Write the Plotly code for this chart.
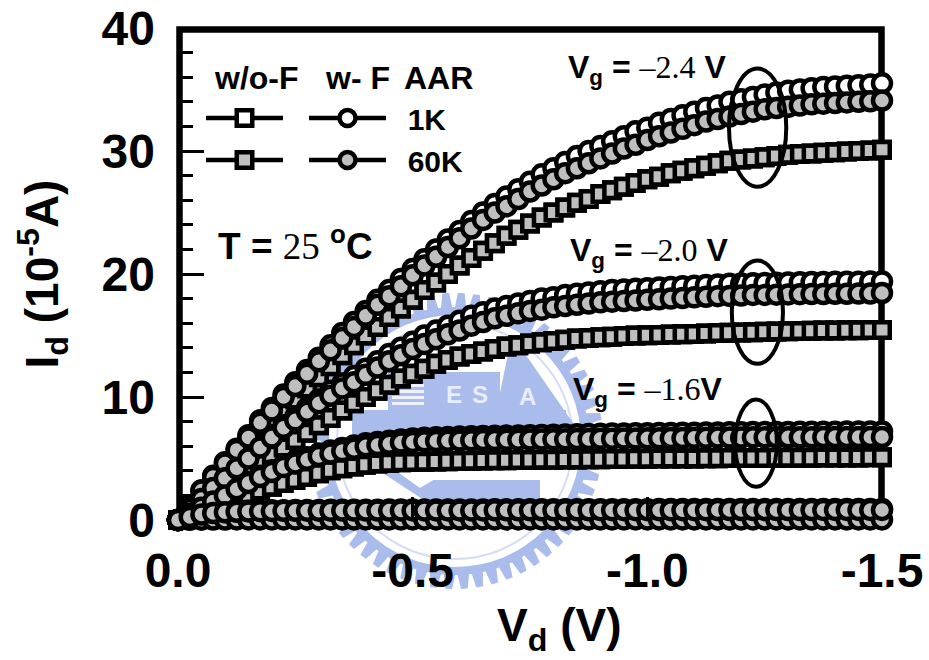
import math
import plotly.graph_objects as go

VD = [0.0,-0.025,-0.05,-0.075,-0.1,-0.125,-0.15,-0.175,-0.2,-0.225,-0.25,-0.275,-0.3,-0.325,-0.35,-0.375,-0.4,-0.425,-0.45,-0.475,
      -0.5,-0.525,-0.55,-0.575,-0.6,-0.625,-0.65,-0.675,-0.7,-0.725,-0.75,-0.775,-0.8,-0.825,-0.85,-0.875,-0.9,-0.925,-0.95,-0.975,
      -1.0,-1.025,-1.05,-1.075,-1.1,-1.125,-1.15,-1.175,-1.2,-1.225,-1.25,-1.275,-1.3,-1.325,-1.35,-1.375,-1.4,-1.425,-1.45,-1.475,-1.5]

WF_1K_24 = [0,1.2,2.4,3.6,4.7,5.8,6.9,8.1,9.1,10.2,11.2,12.2,13.2,14.2,15.2,16.1,17.0,17.9,18.7,19.6,20.4,21.2,22.0,22.8,23.5,24.3,25.0,25.7,26.3,26.9,27.5,28.1,28.6,29.1,29.6,30.0,30.4,30.8,31.2,31.6,31.9,32.3,32.6,32.9,33.2,33.5,33.7,34.0,34.2,34.4,34.6,34.75,34.9,35.0,35.1,35.2,35.25,35.3,35.35,35.4,35.5]
WF_60K_24 = [0,1.2,2.4,3.5,4.6,5.7,6.7,7.9,8.9,10.0,10.9,11.9,12.9,13.8,14.8,15.7,16.6,17.5,18.2,19.0,19.9,20.7,21.4,22.2,22.9,23.7,24.4,25.0,25.5,26.1,26.7,27.2,27.7,28.2,28.6,29.0,29.4,29.8,30.2,30.5,30.9,31.2,31.5,31.8,32.1,32.4,32.6,32.8,33.0,33.2,33.4,33.5,33.6,33.7,33.8,33.85,33.9,33.95,34.0,34.05,34.1]
WOF_60K_24 = [0,1.0,2.0,3.0,4.0,4.9,5.8,6.8,8.0,8.9,9.8,10.7,11.6,12.5,13.4,14.2,15.0,15.7,16.5,17.2,17.9,18.7,19.3,20.0,20.7,21.3,21.9,22.5,23.1,23.6,24.1,24.6,25.0,25.4,25.8,26.1,26.5,26.8,27.1,27.4,27.7,27.9,28.2,28.4,28.6,28.8,29.0,29.2,29.3,29.4,29.5,29.6,29.7,29.75,29.8,29.85,29.9,29.95,30.0,30.05,30.1]

WF_1K_20 = [0,0.9,1.8,2.7,3.5,4.3,5.2,6.1,6.9,7.7,8.4,9.1,9.8,10.5,11.1,11.7,12.3,12.9,13.5,14.0,14.5,15.0,15.4,15.8,16.2,16.6,16.9,17.2,17.4,17.6,17.8,18.0,18.1,18.3,18.4,18.5,18.6,18.7,18.75,18.8,18.85,18.9,18.95,19.0,19.05,19.1,19.15,19.2,19.22,19.25,19.27,19.29,19.31,19.33,19.34,19.35,19.36,19.37,19.38,19.39,19.4]
WF_60K_20 = [0,0.9,1.7,2.6,3.4,4.2,5.0,5.9,6.7,7.5,8.1,8.8,9.5,10.1,10.7,11.2,11.8,12.4,12.9,13.4,13.9,14.3,14.7,15.1,15.4,15.8,16.1,16.4,16.6,16.8,17.0,17.1,17.3,17.4,17.5,17.6,17.7,17.75,17.8,17.85,17.9,17.95,18.0,18.05,18.1,18.15,18.2,18.22,18.25,18.3,18.3,18.32,18.34,18.36,18.37,18.38,18.39,18.4,18.41,18.42,18.45]
WOF_60K_20 = [0,0.7,1.4,2.1,2.8,3.4,4.1,4.7,5.3,5.9,6.5,7.1,7.7,8.3,8.9,9.5,10.0,10.5,11.0,11.5,11.9,12.3,12.7,13.0,13.3,13.5,13.7,13.9,14.1,14.2,14.35,14.45,14.55,14.65,14.75,14.8,14.85,14.9,14.95,15.0,15.02,15.05,15.08,15.1,15.13,15.16,15.2,15.22,15.25,15.27,15.3,15.32,15.34,15.36,15.38,15.4,15.41,15.42,15.43,15.44,15.45]

WF_1K_16 = [0,0.5,1.0,1.5,2.05,2.6,3.1,3.6,4.05,4.45,4.8,5.1,5.4,5.65,5.85,6.05,6.25,6.35,6.45,6.55,6.62,6.68,6.72,6.75,6.78,6.8,6.82,6.84,6.86,6.88,6.9,6.92,6.94,6.96,6.98,7.0,7.02,7.03,7.04,7.05,7.06,7.07,7.08,7.09,7.1,7.11,7.12,7.13,7.14,7.15,7.15,7.16,7.16,7.17,7.17,7.18,7.18,7.19,7.19,7.2,7.2]
WF_60K_16 = [0,0.5,1.0,1.5,2.0,2.5,3.0,3.5,3.9,4.3,4.6,4.9,5.2,5.4,5.6,5.8,6.0,6.1,6.2,6.3,6.35,6.4,6.42,6.44,6.46,6.48,6.5,6.5,6.52,6.52,6.54,6.54,6.56,6.56,6.58,6.58,6.6,6.6,6.62,6.62,6.64,6.64,6.66,6.66,6.68,6.68,6.7,6.7,6.7,6.72,6.72,6.72,6.73,6.73,6.73,6.74,6.74,6.74,6.75,6.75,6.75]
WOF_60K_16 = [0,0.35,0.7,1.05,1.4,1.75,2.1,2.4,2.7,3.0,3.25,3.5,3.8,4.05,4.2,4.35,4.5,4.6,4.65,4.7,4.72,4.74,4.76,4.78,4.8,4.82,4.84,4.85,4.86,4.87,4.88,4.89,4.9,4.91,4.92,4.93,4.94,4.95,4.96,4.97,4.98,4.99,5.0,5.0,5.01,5.02,5.03,5.04,5.04,5.05,5.05,5.06,5.06,5.07,5.07,5.08,5.08,5.09,5.09,5.1,5.1]

WF_1K_12 = [0,0.3,0.5,0.62,0.68,0.72,0.75,0.77,0.79,0.8,0.81,0.82,0.82,0.83,0.83,0.84,0.84,0.84,0.85,0.85,0.85,0.85,0.86,0.86,0.86,0.86,0.86,0.87,0.87,0.87,0.87,0.87,0.87,0.88,0.88,0.88,0.88,0.88,0.88,0.88,0.88,0.89,0.89,0.89,0.89,0.89,0.89,0.89,0.89,0.89,0.9,0.9,0.9,0.9,0.9,0.9,0.9,0.9,0.9,0.9,0.9]
WF_60K_12 = [0,0.25,0.45,0.57,0.63,0.67,0.7,0.72,0.74,0.75,0.75,0.76,0.76,0.76,0.77,0.77,0.77,0.77,0.77,0.78,0.78,0.78,0.78,0.78,0.78,0.78,0.78,0.79,0.79,0.79,0.79,0.79,0.79,0.79,0.79,0.79,0.8,0.8,0.8,0.8,0.8,0.8,0.8,0.8,0.8,0.8,0.81,0.81,0.81,0.81,0.81,0.81,0.81,0.81,0.81,0.82,0.82,0.82,0.82,0.82,0.82]
WF_60K_08 = [0,0.02,0.03,0.04,0.04,0.05,0.05,0.05,0.05,0.05,0.05,0.05,0.05,0.05,0.05,0.05,0.05,0.05,0.05,0.05,0.05,0.05,0.05,0.05,0.05,0.05,0.05,0.05,0.05,0.05,0.05,0.05,0.05,0.05,0.05,0.05,0.05,0.05,0.05,0.05,0.05,0.05,0.05,0.05,0.05,0.05,0.05,0.05,0.05,0.05,0.05,0.05,0.05,0.05,0.05,0.05,0.05,0.05,0.05,0.05,0.05]

Y_TICKS = [0, 10, 20, 30, 40]
X_TICKS = [0, -0.5, -1.0, -1.5]
X_TICK_LABELS = ["0.0", "-0.5", "-1.0", "-1.5"]

for arr in [WF_1K_24, WF_60K_24, WOF_60K_24, WF_1K_20, WF_60K_20, WOF_60K_20, WF_1K_16, WF_60K_16, WOF_60K_16, WF_1K_12, WF_60K_12, WF_60K_08]:
    assert len(arr) == len(VD), len(arr)

BLACK = "#000000"
GREY = "#bfbfbf"
SEAL = "#aabcec"
SANS = "Liberation Sans, Arial, sans-serif"
SERIF = "Liberation Serif, Times New Roman, serif"

L, R, T, B = 178, 882, 28, 520


def fx(px):
    return (px - L) / (R - L)


def fy(py):
    return (B - py) / (B - T)


def ptrace(y, name, symbol, fill, legend=None, show=False):
    return go.Scatter(
        x=VD, y=y, name=name, mode="lines+markers", cliponaxis=False,
        line=dict(color=BLACK, width=4.5),
        marker=dict(symbol=symbol, size=15.5 if symbol == "square" else 18, color=fill,
                    line=dict(color=BLACK, width=4.5)),
        showlegend=show, legend=legend, legendgroup=name if show else None, hoverinfo="x+y+name",
    )


fig = go.Figure()
# squares under circles; w/o-F 1K coincides with the 60K curve and is hidden below it
fig.add_trace(ptrace(WOF_60K_24, "  ", "square", "#ffffff", "legend", True))
for y in [WOF_60K_20, WOF_60K_16]:
    fig.add_trace(ptrace(y, "w/o-F 1K", "square", "#ffffff"))
fig.add_trace(ptrace(WOF_60K_24, "   ", "square", GREY, "legend", True))
for y in [WOF_60K_20, WOF_60K_16]:
    fig.add_trace(ptrace(y, "w/o-F 60K", "square", GREY))
fig.add_trace(ptrace(WF_60K_08, "w-F Vg=-0.8", "circle", GREY))
fig.add_trace(ptrace(WF_1K_24, "\u00a0\u00a01K", "circle", "#ffffff", "legend2", True))
for y in [WF_1K_20, WF_1K_16, WF_1K_12]:
    fig.add_trace(ptrace(y, "w-F 1K", "circle", "#ffffff"))
fig.add_trace(ptrace(WF_60K_24, "\u00a0\u00a060K", "circle", GREY, "legend2", True))
for y in [WF_60K_20, WF_60K_16, WF_60K_12]:
    fig.add_trace(ptrace(y, "w-F 60K", "circle", GREY))

shapes = []
# faint seal watermark behind the data
cx, cy = 455, 441
n_teeth = 60
pts = []
for k in range(n_teeth):
    a0 = 2 * math.pi * k / n_teeth
    step = 2 * math.pi / n_teeth
    for frac, r in [(0.0, 134), (0.18, 148), (0.62, 148), (0.8, 134)]:
        a = a0 + frac * step
        pts.append((fx(cx + r * math.cos(a)), fy(cy + r * math.sin(a))))
path = "M " + " L ".join(f"{a:.5f},{b:.5f}" for a, b in pts) + " Z"
shapes.append(dict(type="path", path=path, xref="paper", yref="paper", fillcolor=SEAL, line_width=0, layer="below"))


def seal_circle(r, fill, line_color=None, lw=0):
    shapes.append(dict(type="circle", xref="paper", yref="paper", x0=fx(cx - r), x1=fx(cx + r), y0=fy(cy + r), y1=fy(cy - r),
                       fillcolor=fill, line=dict(color=line_color or fill, width=lw), layer="below"))


def seal_rect(x0, y0, x1, y1, fill=SEAL):
    shapes.append(dict(type="rect", xref="paper", yref="paper", x0=fx(x0), x1=fx(x1), y0=fy(y1), y1=fy(y0),
                       fillcolor=fill, line_width=0, layer="below"))


def seal_poly(points, fill=SEAL):
    p = "M " + " L ".join(f"{fx(a):.5f},{fy(b):.5f}" for a, b in points) + " Z"
    shapes.append(dict(type="path", path=p, xref="paper", yref="paper", fillcolor=fill, line_width=0, layer="below"))


seal_circle(126, "#ffffff")
seal_circle(118, "rgba(0,0,0,0)", "#d5ddf5", 2)
seal_rect(352, 410, 566, 440)
seal_rect(388, 372, 500, 412)
seal_poly([(496, 412), (512, 335), (578, 430), (520, 430)])
seal_poly([(378, 470), (400, 455), (430, 480), (540, 480), (540, 504), (430, 504)])
seal_poly([(392, 468), (500, 440), (420, 488)], "#ffffff")
for s in range(4):
    seal_rect(392, 384 + 6 * s, 424, 387 + 6 * s, "#eef1fb")

# frame, under the markers
shapes.append(dict(type="rect", xref="paper", yref="paper", x0=fx(179.5), x1=fx(881.5), y0=fy(520), y1=fy(29.5),
                   fillcolor="rgba(0,0,0,0)", line=dict(color=BLACK, width=6.5), layer="below"))

# ellipses grouping each gate-voltage family, above the markers
for x0, x1, y0, y1 in [(-1.174, -1.296, 27.1, 36.7), (-1.180, -1.289, 12.7, 21.1), (-1.187, -1.276, 2.7, 9.8)]:
    shapes.append(dict(type="circle", xref="x", yref="y", x0=x0, x1=x1, y0=y0, y1=y1,
                       fillcolor="rgba(0,0,0,0)", line=dict(color=BLACK, width=4), layer="above"))


def note(text, px, py, size=32, anchor="center"):
    return dict(text=text, x=fx(px), y=fy(py), xref="paper", yref="paper", showarrow=False, xanchor=anchor, yanchor="middle",
                font=dict(family=SANS, size=size, color=BLACK))


def srf(t):
    return f"<span style='font-family:{SERIF};font-weight:normal'>{t}</span>"


annotations = [
    note("<b>w/o-F</b>", 256, 78),
    note("<b>w- F</b>", 357, 78),
    note("<b>AAR</b>", 438, 78),
    note("<b>T = </b>" + srf("25") + "<b> <sup>o</sup>C</b>", 216, 243, 37, "left"),
    note("<b>V<sub>g</sub> = </b>" + srf("–2.4") + "<b> V</b>", 566, 70, 32, "left"),
    note("<b>V<sub>g</sub> = </b>" + srf("–2.0") + "<b> V</b>", 568, 252, 32, "left"),
    note("<b>V<sub>g</sub> = </b>" + srf("–1.6") + "<b>V</b>", 571, 392, 32, "left"),
    note("<b>V<sub>d</sub> (V)</b>", 559, 628, 46),
    note("<b>E</b>", 454, 394, 24),
    note("<b>S</b>", 480, 394, 24),
    note("<b>A</b>", 527, 396, 24),
]
for a in annotations[-3:]:
    a["font"]["color"] = "#e8edfb"

legend_common = dict(
    bgcolor="rgba(0,0,0,0)", borderwidth=0, itemwidth=77, traceorder="grouped", tracegroupgap=0,
    font=dict(family=SANS, size=30, color=BLACK, weight="bold"), xanchor="left", yanchor="top", itemclick=False, itemdoubleclick=False,
)

fig.update_layout(
    width=929, height=660, autosize=False,
    margin=dict(l=L, r=929 - R, t=T, b=660 - B, autoexpand=False),
    paper_bgcolor="#ffffff", plot_bgcolor="rgba(0,0,0,0)",
    font=dict(family=SANS, color=BLACK),
    showlegend=True,
    legend=dict(x=fx(201), y=fy(92), **legend_common),
    legend2=dict(x=fx(304), y=fy(92), **legend_common),
    shapes=shapes, annotations=annotations,
    xaxis=dict(range=[0, -1.5], showgrid=False, zeroline=False, showline=False,
               tickmode="array", tickvals=X_TICKS, ticktext=X_TICK_LABELS,
               ticks="inside", ticklen=23, tickwidth=3, tickcolor=BLACK, ticklabelstandoff=18,
               tickfont=dict(family=SANS, size=48, color=BLACK, weight="bold")),
    yaxis=dict(range=[0, 40], showgrid=False, zeroline=False, showline=False,
               tickmode="array", tickvals=Y_TICKS, ticktext=[str(v) for v in Y_TICKS],
               ticks="inside", ticklen=26, tickwidth=3, tickcolor=BLACK, ticklabelstandoff=22,
               minor=dict(dtick=2, ticks="inside", ticklen=15, tickwidth=3, tickcolor=BLACK),
               tickfont=dict(family=SANS, size=48, color=BLACK, weight="bold"),
               title=dict(text="<b>I<sub>d</sub> (10<sup>-5</sup>A)</b>", standoff=28,
                          font=dict(family=SANS, size=46, color=BLACK))),
)
fig.write_html("out.html", config={"displayModeBar": False}, post_script="document.body.style.margin='0';")
